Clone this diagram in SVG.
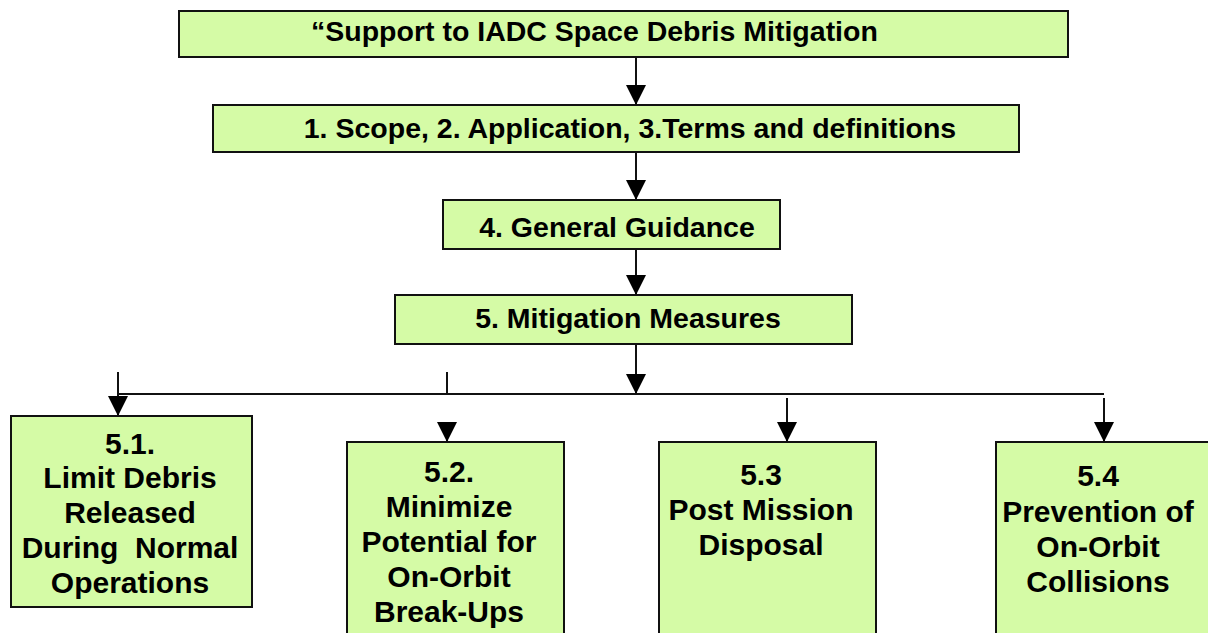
<svg xmlns="http://www.w3.org/2000/svg" width="1208" height="633" viewBox="0 0 1208 633">
<style>
.box{fill:#d5fba6;stroke:#111;stroke-width:2}
.t{font-family:"Liberation Sans",Arial,sans-serif;font-weight:bold;fill:#000}
.h{font-size:28.5px}
.b{font-size:30px;text-anchor:middle}
.c{fill:none;stroke:#111;stroke-width:2}
</style>
<defs>
<marker id="ah" viewBox="0 0 20 20" refX="20" refY="10" markerWidth="20" markerHeight="21" markerUnits="userSpaceOnUse" orient="auto">
<path d="M0,0 L20,10 L0,20 z" fill="#000"/>
</marker>
</defs>
<rect width="1208" height="633" fill="#fff"/>
<g id="connectors">
<path class="c" d="M636,57 V105" marker-end="url(#ah)"/>
<path class="c" d="M636,152 V200" marker-end="url(#ah)"/>
<path class="c" d="M636,249 V295" marker-end="url(#ah)"/>
<path class="c" d="M636,344 V394" marker-end="url(#ah)"/>
<path class="c" d="M118,394 H1104"/>
<path class="c" d="M118,372 V416" marker-end="url(#ah)"/>
<path class="c" d="M447,372 V394"/>
<path class="c" d="M447,424 V442" marker-end="url(#ah)"/>
<path class="c" d="M787,398 V442" marker-end="url(#ah)"/>
<path class="c" d="M1104,398 V442" marker-end="url(#ah)"/>
</g>
<g id="n-top">
<rect class="box" x="179" y="11" width="889" height="46"/>
<text class="t h" x="311" y="41">“Support to IADC Space Debris Mitigation</text>
</g>
<g id="n-scope">
<rect class="box" x="213" y="105" width="806" height="47"/>
<text class="t h" x="630" y="138" text-anchor="middle">1. Scope, 2. Application, 3.Terms and definitions</text>
</g>
<g id="n-general">
<rect class="box" x="443" y="200" width="337" height="49"/>
<text class="t h" x="617" y="237" text-anchor="middle">4. General Guidance</text>
</g>
<g id="n-measures">
<rect class="box" x="395" y="295" width="457" height="49"/>
<text class="t h" x="628" y="328" text-anchor="middle">5. Mitigation Measures</text>
</g>
<g id="n-51">
<rect class="box" x="11" y="416" width="241" height="191"/>
<text class="t b" x="130" y="454">5.1.</text>
<text class="t b" x="130" y="488">Limit Debris</text>
<text class="t b" x="130" y="523">Released</text>
<text class="t b" x="130" y="558" xml:space="preserve">During  Normal</text>
<text class="t b" x="130" y="593">Operations</text>
</g>
<g id="n-52">
<rect class="box" x="347" y="442" width="217" height="200"/>
<text class="t b" x="449" y="482">5.2.</text>
<text class="t b" x="449" y="517">Minimize</text>
<text class="t b" x="449" y="552">Potential for</text>
<text class="t b" x="449" y="587">On-Orbit</text>
<text class="t b" x="449" y="622">Break-Ups</text>
</g>
<g id="n-53">
<rect class="box" x="659" y="442" width="217" height="200"/>
<text class="t b" x="761" y="485">5.3</text>
<text class="t b" x="761" y="520">Post Mission</text>
<text class="t b" x="761" y="555">Disposal</text>
</g>
<g id="n-54">
<rect class="box" x="996" y="442" width="220" height="200"/>
<text class="t b" x="1098" y="486">5.4</text>
<text class="t b" x="1098" y="522">Prevention of</text>
<text class="t b" x="1098" y="557">On-Orbit</text>
<text class="t b" x="1098" y="592">Collisions</text>
</g>
</svg>
